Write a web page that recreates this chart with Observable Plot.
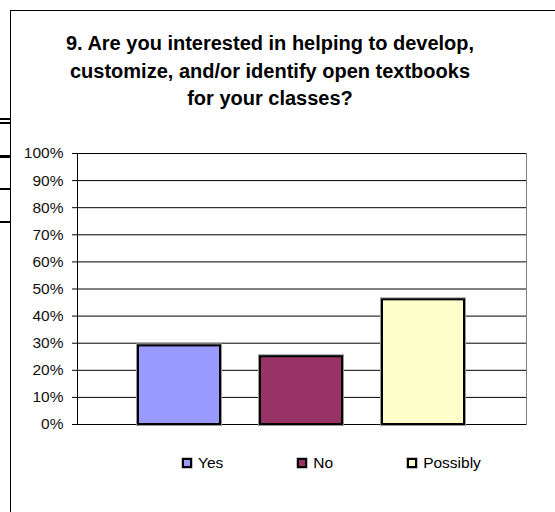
<!DOCTYPE html>
<html>
<head>
<meta charset="utf-8">
<script src="https://cdn.jsdelivr.net/npm/d3@7"></script>
<script src="https://cdn.jsdelivr.net/npm/@observablehq/plot@0.6"></script>
<style>
  html, body { margin: 0; padding: 0; background: #fff; overflow: hidden; }
  #wrap { position: relative; width: 555px; height: 512px; overflow: hidden; font-family: "Liberation Sans", Arial, sans-serif; }
  #outer { position: absolute; left: 10px; top: 10px; width: 700px; height: 700px; border-left: 1px solid #000; border-top: 1px solid #000; }
  .stub { position: absolute; left: 0; width: 10px; background: #000; }
  #title { position: absolute; left: 10px; top: 30px; width: 520px; text-align: center; font-weight: bold; font-size: 20px; line-height: 27.5px; color: #000; }
  #chart { position: absolute; left: 0; top: 0; }
  #legend { position: absolute; left: 182px; top: 453px; display: flex; gap: 74px; font-size: 15.5px; line-height: 20px; color: #000; }
  .item { display: flex; align-items: center; }
  .sw { width: 6px; height: 6px; border: 2px solid #000; margin-right: 6px; box-shadow: 0 0 0 0.5px #888; }
</style>
</head>
<body>
<div id="wrap">
  <div class="stub" style="top:118px;height:2px"></div>
  <div class="stub" style="top:122px;height:2px"></div>
  <div class="stub" style="top:155px;height:3px"></div>
  <div class="stub" style="top:188px;height:2px"></div>
  <div class="stub" style="top:221px;height:2px"></div>
  <div id="outer"></div>
  <div id="title">9. Are you interested in helping to develop,<br>customize, and/or identify open textbooks<br>for your classes?</div>
  <div id="chart"></div>
  <div id="legend"></div>
</div>
<script>
const categories = ["Yes", "No", "Possibly"];
const values = [0.29, 0.25, 0.46];
const colors = ["#9999FF", "#993366", "#FFFFCC"];
const yTicks = [0, 0.1, 0.2, 0.3, 0.4, 0.5, 0.6, 0.7, 0.8, 0.9, 1.0];

const data = categories.map((c, i) => ({cat: c, value: values[i]}));

const chart = Plot.plot({
  width: 555,
  height: 512,
  marginLeft: 77,
  marginRight: 29,
  marginTop: 153,
  marginBottom: 88,
  style: {background: "transparent", fontFamily: "Liberation Sans, Arial, sans-serif", color: "#000"},
  x: {type: "band", domain: categories, range: [117.5, 485.5], paddingInner: 0.324, paddingOuter: 0.162, axis: null},
  y: {domain: [0, 1], axis: null},
  color: {domain: categories, range: colors},
  marks: [
    Plot.frame({stroke: "#808080"}),
    Plot.ruleY(yTicks, {stroke: "#000", strokeWidth: 1}),
    Plot.frame({anchor: "left", stroke: "#000"}),
    Plot.axisY({ticks: yTicks, tickFormat: d3.format(".0%"), tickSize: 5, tickPadding: 9, fontSize: 15.5, label: null, stroke: "#000", fill: "#111"}),
    Plot.barY(data, {x: "cat", y: "value", fill: "none", stroke: "#9a9a9a", strokeWidth: 4}),
    Plot.barY(data, {x: "cat", y: "value", fill: "cat", stroke: "#000", strokeWidth: 2})
  ]
});
document.getElementById("chart").appendChild(chart);

const legend = document.getElementById("legend");
categories.forEach((c, i) => {
  const item = document.createElement("div");
  item.className = "item";
  const sw = document.createElement("span");
  sw.className = "sw";
  sw.style.background = colors[i];
  const t = document.createElement("span");
  t.textContent = c;
  item.appendChild(sw);
  item.appendChild(t);
  legend.appendChild(item);
});
</script>
</body>
</html>
